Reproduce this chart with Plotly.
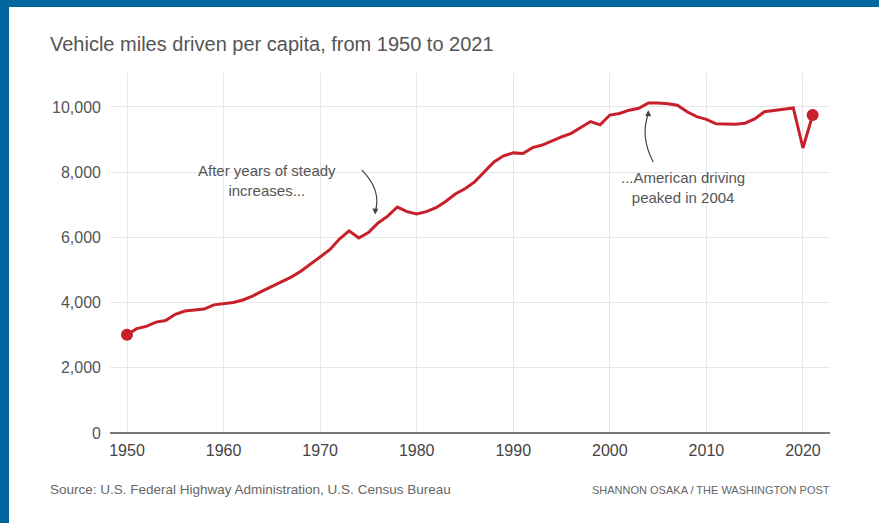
import plotly.graph_objects as go

years = list(range(1950, 2022))
vmt_per_capita = [
    3010, 3200, 3270, 3400, 3450, 3640, 3740, 3760, 3800, 3930,
    3970, 4000, 4080, 4200, 4350, 4500, 4650, 4780, 4960, 5180,
    5390, 5620, 5950, 6200, 5980, 6150, 6440, 6650, 6930, 6790,
    6720, 6790, 6910, 7100, 7330, 7490, 7700, 7990, 8310, 8500,
    8590, 8570, 8750, 8830, 8960, 9080, 9190, 9360, 9550, 9450,
    9750, 9800, 9900, 9960, 10120, 10120, 10100, 10050, 9850, 9700,
    9620, 9480, 9470, 9470, 9500, 9630, 9850, 9900, 9930, 9970,
    8740, 9750,
]
y_ticks = [0, 2000, 4000, 6000, 8000, 10000]
x_ticks = [1950, 1960, 1970, 1980, 1990, 2000, 2010, 2020]

RED = "#c8202a"
FONT = "Liberation Sans"
W, H = 879, 523
ML, MR, MT, MB = 110, 49, 73, 90
PW, PH = W - ML - MR, H - MT - MB

fig = go.Figure()
fig.add_trace(go.Scatter(
    x=years, y=vmt_per_capita, mode="lines",
    line=dict(color=RED, width=3), hoverinfo="skip", showlegend=False,
))
fig.add_trace(go.Scatter(
    x=[years[0], years[-1]], y=[vmt_per_capita[0], vmt_per_capita[-1]],
    mode="markers", marker=dict(color=RED, size=12),
    hoverinfo="skip", showlegend=False,
))

fig.update_layout(
    width=W, height=H,
    margin=dict(l=ML, r=MR, t=MT, b=MB),
    paper_bgcolor="white", plot_bgcolor="white",
    font=dict(family=FONT, color="#555"),
    xaxis=dict(
        range=[1948.24, 2022.8], tickvals=x_ticks, showgrid=True,
        gridcolor="#e6e6e6", gridwidth=1, zeroline=False,
        showline=False, ticks="", ticklabelstandoff=6,
        tickfont=dict(size=16, color="#444"),
    ),
    yaxis=dict(
        range=[0, 11040], tickvals=y_ticks, tickformat=",d",
        showgrid=True, gridcolor="#e6e6e6", gridwidth=1,
        zeroline=True, zerolinecolor="#777", zerolinewidth=2,
        ticks="", ticklabelstandoff=8, tickfont=dict(size=16, color="#555"),
    ),
)

def px_x(p):
    return (p - ML) / PW

def px_y(p):
    return (H - MB - p) / PH

# blue frame on top and left
fig.add_shape(type="rect", xref="paper", yref="paper", x0=px_x(0), x1=px_x(9),
              y0=px_y(H), y1=px_y(0), fillcolor="#00669e", line=dict(width=0), layer="above")
fig.add_shape(type="rect", xref="paper", yref="paper", x0=px_x(0), x1=px_x(W),
              y0=px_y(7), y1=px_y(0), fillcolor="#00669e", line=dict(width=0), layer="above")

# curved arrows
fig.add_shape(type="path", xref="x", yref="y",
              path="M 1974.3 8070 Q 1976.4 7450 1975.7 6780",
              line=dict(color="#444", width=1.2))
fig.add_annotation(x=1975.7, y=6700, ax=1975.72, ay=6850, xref="x", yref="y",
                   axref="x", ayref="y", text="", showarrow=True,
                   arrowhead=2, arrowsize=1, arrowwidth=1.2, arrowcolor="#444")
fig.add_shape(type="path", xref="x", yref="y",
              path="M 2004.5 8310 Q 2003.1 9100 2004.0 9800",
              line=dict(color="#444", width=1.2))
fig.add_annotation(x=2004.0, y=9900, ax=2003.97, ay=9750, xref="x", yref="y",
                   axref="x", ayref="y", text="", showarrow=True,
                   arrowhead=2, arrowsize=1, arrowwidth=1.2, arrowcolor="#444")

fig.add_annotation(x=1964.5, y=7730, xref="x", yref="y", showarrow=False,
                   text="After years of steady<br>increases...",
                   font=dict(size=15, color="#555", family=FONT), align="center")
fig.add_annotation(x=2007.6, y=7515, xref="x", yref="y", showarrow=False,
                   text="...American driving<br>peaked in 2004",
                   font=dict(size=15, color="#555", family=FONT), align="center")

# title and footer
fig.add_annotation(x=px_x(48), y=px_y(44), xref="paper", yref="paper", showarrow=False,
                   text="Vehicle miles driven per capita, from 1950 to 2021",
                   xanchor="left", yanchor="middle",
                   font=dict(size=20, color="#555", family=FONT))
fig.add_annotation(x=px_x(48), y=px_y(490), xref="paper", yref="paper", showarrow=False,
                   text="Source: U.S. Federal Highway Administration, U.S. Census Bureau",
                   xanchor="left", yanchor="middle",
                   font=dict(size=13.5, color="#666", family=FONT))
fig.add_annotation(x=px_x(832), y=px_y(490), xref="paper", yref="paper", showarrow=False,
                   text="SHANNON OSAKA / THE WASHINGTON POST",
                   xanchor="right", yanchor="middle",
                   font=dict(size=11, color="#666", family=FONT))

fig.write_html("out.html", config={"displayModeBar": False},
               post_script="document.body.style.margin='0px';")
